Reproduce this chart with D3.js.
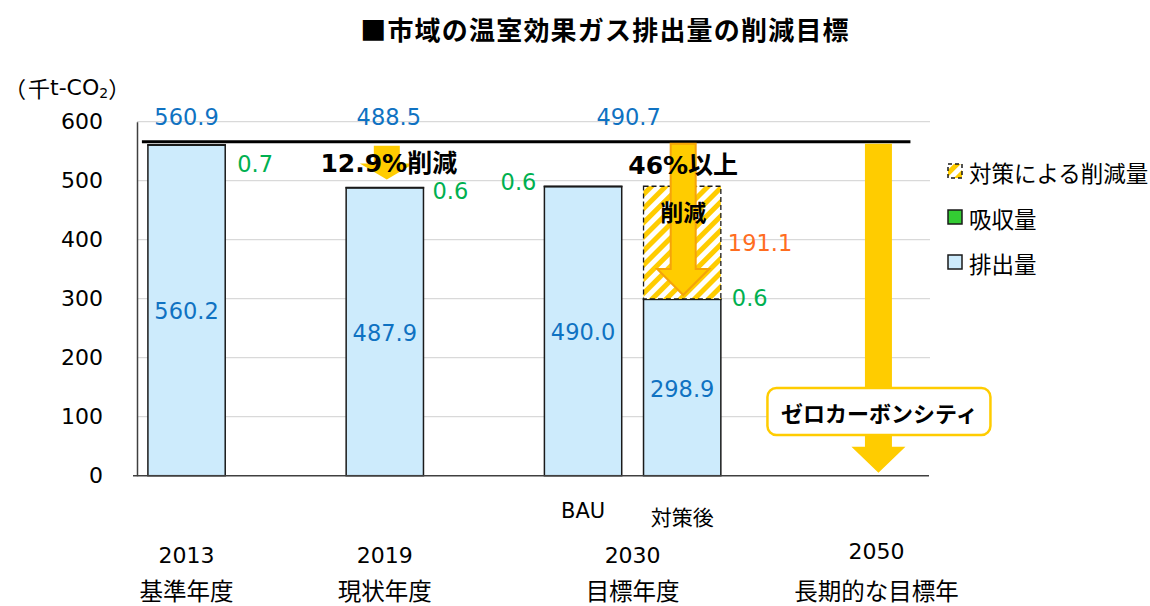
<!DOCTYPE html>
<html><head><meta charset="utf-8">
<script src="https://cdn.jsdelivr.net/npm/d3@7/dist/d3.min.js"></script>
<style>
body{margin:0;background:#fff;}
svg{display:block;}
</style></head>
<body><svg id="c" width="1150" height="606"></svg>
<script>
// ---- data ----
const slots = ["2013", "_g1", "2019", "_g2", "BAU", "対策後", "_g3", "2050"];
const barSlots = ["2013", "2019", "BAU", "対策後"];
const emissions = [560.2, 487.9, 490.0, 298.9];
const absorption = [0.7, 0.6, 0.6, 0.6];
const reductions = [0, 0, 0, 191.1];
const totalLabels = ["560.9", "488.5", "490.7"];
const yTicks = [0, 100, 200, 300, 400, 500, 600];
const yearLabels = ["2013", "2019", "2030", "2050"];
const periodLabels = ["基準年度", "現状年度", "目標年度", "長期的な目標年"];
const subLabels = ["BAU", "対策後"];
const legendLabels = ["対策による削減量", "吸収量", "排出量"];
const baseTotal = 560.9;
const title = "■市域の温室効果ガス排出量の削減目標";

// ---- styles ----
const C = {blue:"#0f72c2", green:"#00b050", orange:"#ff6d1f", fill:"#cdebfc", gfill:"#33cc33", yellow:"#ffcc00", arrowStroke:"#f5a30a", grid:"#d9d9d9"};
const NUM = "'DejaVu Sans', 'Noto Sans CJK JP', sans-serif";
const JP = "'Noto Sans CJK JP', 'Noto Sans', sans-serif";

const svg = d3.select("#c");
const x = d3.scaleBand().domain(slots).range([137, 930]).paddingInner(0.22).paddingOuter(0.11);
const y = d3.scaleLinear().domain([0, 600]).range([475.7, 121.7]);
const bw = x.bandwidth();

// hatch pattern
const defs = svg.append("defs");
const pat = defs.append("pattern").attr("id","hatch").attr("patternUnits","userSpaceOnUse")
  .attr("width", 10).attr("height", 10).attr("patternTransform","rotate(45)");
pat.append("rect").attr("width",10).attr("height",10).attr("fill","#fff");
pat.append("rect").attr("x",0).attr("width",5).attr("height",10).attr("fill",C.yellow);

// title
svg.append("text").attr("x", 605).attr("y", 28).attr("text-anchor","middle").attr("dominant-baseline","central")
  .attr("font-family", JP).attr("font-weight", 700).attr("font-size", 26).attr("letter-spacing", 1.2).text(title);

// gridlines
svg.append("g").selectAll("line").data(yTicks.filter(d => d > 0)).join("line")
  .attr("x1", 137).attr("x2", 930).attr("y1", d => y(d)).attr("y2", d => y(d))
  .attr("stroke", C.grid).attr("stroke-width", 1.3);

// y axis
const yAxis = svg.append("g").attr("transform", "translate(137,0)")
  .call(d3.axisLeft(y).tickValues(yTicks).tickSize(0).tickPadding(34));
yAxis.select(".domain").attr("stroke", "#404040").attr("stroke-width", 1.5);
yAxis.selectAll("text").attr("font-family", NUM).attr("font-size", 22).attr("fill", "#000");

// unit label
const unit = svg.append("text").attr("x", 4).attr("y", 87).attr("dominant-baseline","central")
  .attr("font-family", NUM).attr("font-size", 22).attr("fill","#000");
unit.append("tspan").attr("font-family", JP).text("（");
unit.append("tspan").attr("font-family", JP).attr("dx", 2).text("千");
unit.append("tspan").text("t-CO");
unit.append("tspan").attr("font-size", 14).attr("dy", 6).text("2");
unit.append("tspan").attr("font-family", JP).attr("dy", -6).text("）");

// bars
const bars = barSlots.map((s, i) => ({s, e: emissions[i], a: absorption[i], r: reductions[i]}));
const g = svg.append("g");
g.selectAll(".em").data(bars).join("rect")
  .attr("x", d => x(d.s)).attr("width", bw)
  .attr("y", d => y(d.e)).attr("height", d => y(0) - y(d.e))
  .attr("fill", C.fill).attr("stroke", "#1a1a1a").attr("stroke-width", 1.5);
g.selectAll(".ab").data(bars).join("rect")
  .attr("x", d => x(d.s)).attr("width", bw)
  .attr("y", d => y(d.e + d.a)).attr("height", d => y(d.e) - y(d.e + d.a))
  .attr("fill", C.gfill).attr("stroke", "#1a1a1a").attr("stroke-width", 1.5);
g.selectAll(".rd").data(bars.filter(d => d.r > 0)).join("rect")
  .attr("x", d => x(d.s)).attr("width", bw)
  .attr("y", d => y(d.e + d.a + d.r)).attr("height", d => y(d.e + d.a) - y(d.e + d.a + d.r))
  .attr("fill", "url(#hatch)").attr("stroke", "#1a1a1a").attr("stroke-width", 1.3).attr("stroke-dasharray", "5,3");

// baseline
svg.append("line").attr("x1", 133).attr("x2", 929).attr("y1", y(0)).attr("y2", y(0))
  .attr("stroke", "#404040").attr("stroke-width", 1.5);

// reference line at 2013 level
const refY = y(baseTotal) - 3;
svg.append("line").attr("x1", x("2013") - 6).attr("x2", x("2050") + bw / 2 + 30).attr("y1", refY).attr("y2", refY)
  .attr("stroke", "#000").attr("stroke-width", 3);

// arrows
function arrowPath(cx, top, tip, shaftHalf, headHalf, headLen) {
  const hy = tip - headLen;
  return `M${cx - shaftHalf},${top}L${cx + shaftHalf},${top}L${cx + shaftHalf},${hy}L${cx + headHalf},${hy}L${cx},${tip}L${cx - headHalf},${hy}L${cx - shaftHalf},${hy}Z`;
}
const c19 = x("2019") + bw / 2 + 2;
svg.append("path").attr("d", arrowPath(c19, refY + 4, y(488.5) - 8, 13, 27, 16)).attr("fill", C.yellow);
const cAfter = x("対策後") + bw / 2 + 1;
svg.append("path").attr("d", arrowPath(cAfter, refY + 2, y(299.5) - 4, 12.5, 26, 26))
  .attr("fill", C.yellow).attr("stroke", C.arrowStroke).attr("stroke-width", 2);
const c50 = x("2050") + bw / 2 - 2;
svg.append("path").attr("d", arrowPath(c50, refY + 2, y(0) - 3, 13.5, 27, 26)).attr("fill", C.yellow);

// zero-carbon box
const zb = svg.append("g");
zb.append("rect").attr("x", c50 - 111).attr("y", 388).attr("width", 223).attr("height", 47).attr("rx", 9)
  .attr("fill", "#fff").attr("stroke", C.yellow).attr("stroke-width", 2.5);
zb.append("text").attr("x", c50 + 1).attr("y", 412).attr("text-anchor","middle").attr("dominant-baseline","central")
  .attr("font-family", JP).attr("font-weight", 700).attr("font-size", 22).text("ゼロカーボンシティ");

// annotation texts
svg.append("text").attr("x", c19 + 2).attr("y", 163).attr("text-anchor","middle").attr("dominant-baseline","central")
  .attr("font-family", NUM).attr("font-weight", 700).attr("font-size", 25).text("12.9%削減");
svg.append("text").attr("x", cAfter).attr("y", 165).attr("text-anchor","middle").attr("dominant-baseline","central")
  .attr("font-family", NUM).attr("font-weight", 700).attr("font-size", 25).text("46%以上");
svg.append("text").attr("x", cAfter).attr("y", 211).attr("text-anchor","middle").attr("dominant-baseline","central")
  .attr("font-family", JP).attr("font-weight", 700).attr("font-size", 23).text("削減");

// total labels (top row)
const totalX = [x("2013") + bw / 2, x("2019") + bw / 2 + 4, (x("BAU") + x("対策後") + bw) / 2 - 4];
svg.append("g").selectAll("text").data(totalLabels).join("text")
  .attr("x", (d, i) => totalX[i]).attr("y", y(600) - 5).attr("text-anchor","middle").attr("dominant-baseline","central")
  .attr("font-family", NUM).attr("font-size", 22.5).attr("fill", C.blue).text(d => d);

// emission labels inside bars
g.selectAll(".el").data(bars).join("text")
  .attr("x", d => x(d.s) + bw / 2).attr("y", d => (y(d.e) + y(0)) / 2 + 1)
  .attr("text-anchor","middle").attr("dominant-baseline","central")
  .attr("font-family", NUM).attr("font-size", 22.5).attr("fill", C.blue).text(d => d.e.toFixed(1));

// absorption labels
const absPos = [{dx: bw + 12, dy: 19, a: "start"}, {dx: bw + 9, dy: 4, a: "start"}, {dx: -8, dy: -4, a: "end"}, {dx: bw + 11, dy: -1, a: "start"}];
g.selectAll(".al").data(bars).join("text")
  .attr("x", (d, i) => x(d.s) + absPos[i].dx).attr("y", (d, i) => y(d.e + d.a) + absPos[i].dy)
  .attr("text-anchor", (d, i) => absPos[i].a).attr("dominant-baseline","central")
  .attr("font-family", NUM).attr("font-size", 22.5).attr("fill", C.green).text(d => d.a.toFixed(1));

// reduction label
g.selectAll(".rl").data(bars.filter(d => d.r > 0)).join("text")
  .attr("x", d => x(d.s) + bw + 7).attr("y", d => (y(d.e + d.a) + y(d.e + d.a + d.r)) / 2)
  .attr("dominant-baseline","central")
  .attr("font-family", NUM).attr("font-size", 22.5).attr("fill", C.orange).text(d => d.r.toFixed(1));

// x labels
svg.append("g").selectAll("text").data(subLabels).join("text")
  .attr("x", d => x(d) + bw / 2).attr("y", (d, i) => i === 0 ? 511 : 516)
  .attr("text-anchor","middle").attr("dominant-baseline","central")
  .attr("font-family", (d, i) => i === 0 ? NUM : JP).attr("font-size", 21).text(d => d);
const groupX = [x("2013") + bw / 2, x("2019") + bw / 2, (x("BAU") + x("対策後") + bw) / 2, x("2050") + bw / 2 - 4];
svg.append("g").selectAll("text").data(yearLabels).join("text")
  .attr("x", (d, i) => groupX[i]).attr("y", (d, i) => i === 3 ? 551 : 555)
  .attr("text-anchor","middle").attr("dominant-baseline","central")
  .attr("font-family", NUM).attr("font-size", 22).text(d => d);
svg.append("g").selectAll("text").data(periodLabels).join("text")
  .attr("x", (d, i) => groupX[i]).attr("y", 590)
  .attr("text-anchor","middle").attr("dominant-baseline","central")
  .attr("font-family", JP).attr("font-size", 23.5).text(d => d);

// legend
const lg = svg.append("g").attr("transform", "translate(948,0)");
const legY = [171, 217, 262];
const legFill = ["url(#hatch)", C.gfill, C.fill];
lg.selectAll("rect").data(legendLabels).join("rect")
  .attr("x", 0).attr("y", (d, i) => legY[i] - 7).attr("width", 14).attr("height", 14)
  .attr("fill", (d, i) => legFill[i]).attr("stroke", "#1a1a1a").attr("stroke-width", 1.5)
  .attr("stroke-dasharray", (d, i) => i === 0 ? "4,3" : null);
lg.selectAll("text").data(legendLabels).join("text")
  .attr("x", 21).attr("y", (d, i) => legY[i] + 1).attr("dominant-baseline","central")
  .attr("font-family", JP).attr("font-size", 22.5).text(d => d);
</script></body></html>
